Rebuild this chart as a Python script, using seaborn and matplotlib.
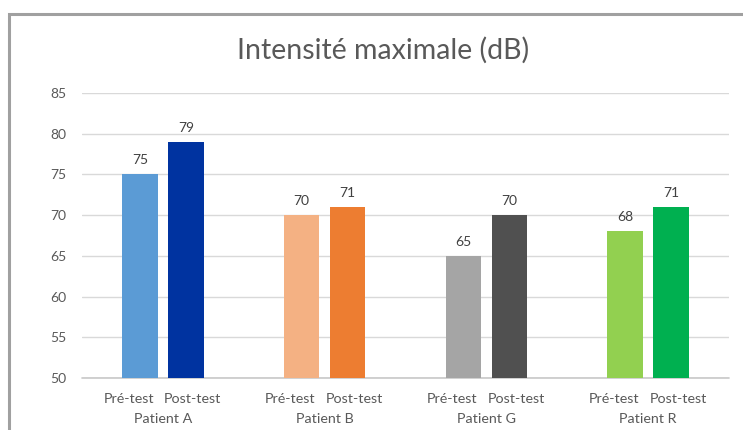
import matplotlib
matplotlib.use("Agg")
import matplotlib.pyplot as plt
import matplotlib.transforms as mtransforms
from matplotlib.patches import Rectangle
import seaborn as sns
import pandas as pd

# Values
patients = ["Patient A", "Patient B", "Patient G", "Patient R"]
tests = ["Pré-test", "Post-test"]
pre_values = [75, 70, 65, 68]
post_values = [79, 71, 70, 71]
pre_colors = ["#5B9BD5", "#F4B183", "#A5A5A5", "#92D050"]
post_colors = ["#0033A0", "#ED7D31", "#505050", "#00B050"]
y_ticks = [50, 55, 60, 65, 70, 75, 80, 85]

df = pd.DataFrame({
    "patient": patients * 2,
    "test": [tests[0]] * len(patients) + [tests[1]] * len(patients),
    "value": pre_values + post_values,
})

sns.set_theme(style="white")
plt.rcParams["font.family"] = ["Lato", "DejaVu Sans"]

text_color = "#595959"
fig = plt.figure(figsize=(7.43, 4.30), dpi=100)
ax = fig.add_axes([82 / 743, 1 - 378 / 430, (729 - 82) / 743, (378 - 93) / 430])

sns.barplot(data=df, x="patient", y="value", hue="test", order=patients,
            hue_order=tests, width=0.569, gap=0.224, legend=False,
            errorbar=None, ax=ax, zorder=3)

# Individual colour for each bar, value labels and test labels under the bars
color_sets = [pre_colors, post_colors]
label_shift = [-8, 5]  # points, keeps the two test labels apart
xtrans = mtransforms.blended_transform_factory(ax.transData, ax.transAxes)
for k, cont in enumerate(ax.containers):
    for bar, col in zip(cont, color_sets[k]):
        bar.set_facecolor(col)
        bar.set_edgecolor("none")
        ax.annotate(tests[k], xy=(bar.get_x() + bar.get_width() / 2, 0),
                    xycoords=xtrans, xytext=(label_shift[k], -11),
                    textcoords="offset points", ha="center", va="top",
                    fontsize=10.3, color=text_color)
    ax.bar_label(cont, fmt="%d", padding=6, fontsize=10, color="#404040")

ax.set_ylim(50, 85)
ax.set_yticks(y_ticks)
ax.set_xlim(-0.5, len(patients) - 0.5)
ax.set_xticks(range(len(patients)), patients)
ax.tick_params(axis="x", length=0, pad=25, labelsize=10.3, labelcolor=text_color)
ax.tick_params(axis="y", length=0, pad=11, labelsize=10, labelcolor=text_color)
ax.set_xlabel("")
ax.set_ylabel("")

ax.yaxis.grid(True, color="#D9D9D9", linewidth=1, zorder=0)
ax.xaxis.grid(False)
ax.axhline(50, color="#C8C8C8", linewidth=1.2, zorder=2, clip_on=False)
for s in ax.spines.values():
    s.set_visible(False)

fig.text(383 / 743, 1 - 50 / 430, "Intensité maximale (dB)", ha="center", va="center",
         fontsize=20.5, color=text_color)

# Chart frame
fig.add_artist(Rectangle((9 / 743, -0.2), 1.2, 1 - 14 / 430 + 0.2,
                         transform=fig.transFigure, fill=False,
                         edgecolor="#A0A0A0", linewidth=2.2))

fig.savefig("out.png", dpi=100)
